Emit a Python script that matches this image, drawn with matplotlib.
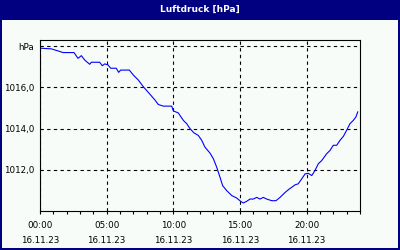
import matplotlib
matplotlib.use("Agg")
import matplotlib.pyplot as plt
from matplotlib.patches import Rectangle

# Data: hours since 16.11.23 00:00, pressure in hPa
hours = [0.08, 0.85, 1.35, 1.73, 2.55, 2.85, 3.10, 3.35, 3.73, 3.85, 4.48, 4.67,
         4.85, 5.10, 5.30, 5.72, 5.90, 6.05, 6.70, 7.00, 7.37, 7.75, 8.12, 8.63,
         8.87, 9.25, 9.88, 10.00, 10.37, 10.75, 11.00, 11.25, 11.55, 11.87, 12.13,
         12.37, 12.75, 13.00, 13.25, 13.50, 13.70, 14.00, 14.38, 14.75, 15.05,
         15.25, 15.50, 15.75, 16.00, 16.25, 16.50, 16.75, 17.00, 17.38, 17.70,
         18.00, 18.38, 18.70, 18.88, 19.13, 19.37, 19.63, 19.88, 20.12, 20.38,
         20.63, 20.87, 21.13, 21.50, 21.75, 22.00, 22.25, 22.50, 22.75, 23.00,
         23.25, 23.50, 23.70, 23.83]
pressure = [1017.90, 1017.87, 1017.77, 1017.69, 1017.69, 1017.41, 1017.54, 1017.33,
            1017.12, 1017.22, 1017.22, 1017.05, 1017.14, 1017.09, 1016.93, 1016.93,
            1016.73, 1016.84, 1016.84, 1016.60, 1016.36, 1016.03, 1015.76, 1015.38,
            1015.17, 1015.09, 1015.09, 1014.86, 1014.76, 1014.40, 1014.24, 1014.00,
            1013.79, 1013.67, 1013.43, 1013.10, 1012.81, 1012.54, 1012.13, 1011.64,
            1011.23, 1010.99, 1010.75, 1010.63, 1010.47, 1010.39, 1010.47, 1010.58,
            1010.58, 1010.66, 1010.58, 1010.66, 1010.58, 1010.50, 1010.50, 1010.66,
            1010.90, 1011.07, 1011.15, 1011.27, 1011.32, 1011.56, 1011.80, 1011.83,
            1011.72, 1011.97, 1012.29, 1012.45, 1012.78, 1012.94, 1013.19, 1013.19,
            1013.43, 1013.62, 1013.92, 1014.24, 1014.40, 1014.57, 1014.81]

title = "Luftdruck [hPa]"
y_ticks = [1012, 1014, 1016, 1018]
y_labels = ["1012,0", "1014,0", "1016,0", "hPa"]
x_major = [0, 5, 10, 15, 20]
x_labels = ["00:00\n16.11.23", "05:00\n16.11.23", "10:00\n16.11.23",
            "15:00\n16.11.23", "20:00\n16.11.23"]
x_minor = list(range(0, 25))

W, H = 400, 250
fig = plt.figure(figsize=(W / 100, H / 100), dpi=100)
fig.patch.set_facecolor("#f8fcf8")

navy = "#000080"
# title bar and border
fig.add_artist(Rectangle((0, 1 - 20 / H), 1, 20 / H, transform=fig.transFigure,
                         facecolor=navy, edgecolor="none", zorder=0))
fig.add_artist(Rectangle((0, 0), 2 / W, 1, transform=fig.transFigure,
                         facecolor=navy, edgecolor="none", zorder=0))
fig.add_artist(Rectangle((1 - 2 / W, 0), 2 / W, 1, transform=fig.transFigure,
                         facecolor=navy, edgecolor="none", zorder=0))
fig.add_artist(Rectangle((0, 0), 1, 2 / H, transform=fig.transFigure,
                         facecolor=navy, edgecolor="none", zorder=0))
fig.text(0.5, 1 - 9 / H, title, color="white", fontsize=6.5, fontweight="bold",
         ha="center", va="center")

ax = fig.add_axes([40 / W, 1 - 211 / H, 320 / W, 171 / H])
ax.set_facecolor("#f8fcf8")
ax.plot(hours, pressure, color="#0000ff", linewidth=0.8)

ax.set_xlim(0, 24)
ax.set_ylim(1010.0, 1018.3)

ax.set_yticks(y_ticks)
ax.set_yticklabels(y_labels, fontsize=6.3)
ax.set_xticks(x_major)
ax.set_xticklabels(x_labels, fontsize=6.3, linespacing=1.75)
ax.set_xticks(x_minor, minor=True)

ax.tick_params(axis="y", length=0, pad=4)
ax.tick_params(axis="x", which="both", length=2.5, width=0.8, direction="out", pad=5)

ax.grid(True, which="major", color="black", linestyle=(0, (3, 3)), linewidth=0.8)
for s in ax.spines.values():
    s.set_color("black")
    s.set_linewidth(0.8)

fig.savefig("out.png", dpi=100, facecolor=fig.get_facecolor())
